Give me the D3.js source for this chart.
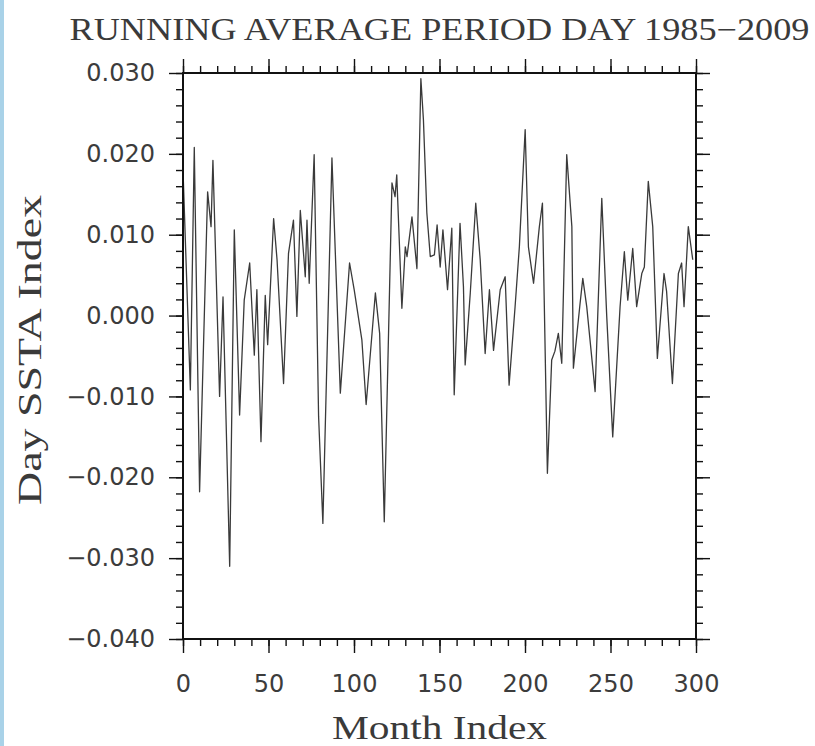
<!DOCTYPE html>
<html>
<head>
<meta charset="utf-8">
<script src="https://cdn.jsdelivr.net/npm/d3@7"></script>
<style>
  body { margin: 0; background: #fff; }
  svg { display: block; }
</style>
</head>
<body>
<svg id="chart" width="815" height="746"></svg>
<script>
const months = [
  0, 4.3, 6.6, 9.7, 14.4, 16.4, 17.5, 21.4, 23.4, 27.3,
  30, 33.1, 35.8, 39, 41.7, 43.2, 45.6, 48.1, 49.5, 53,
  55, 58.8, 61.7, 64.6, 66.6, 68.6, 71.5, 72.5, 73.8, 76.7,
  79.3, 81.8, 87.1, 92, 97.4, 100.1, 104.6, 107.1, 112.5, 115,
  117.7, 122.2, 124, 125, 128, 130, 131, 133.9, 136.8, 139.1,
  140.6, 142.6, 144.6, 147, 148.6, 150.4, 152, 154.7, 157.2, 158.6,
  162, 164, 165, 168, 171.2, 173.8, 176.7, 179.2, 181.6, 185.5,
  188.4, 190.7, 194.2, 196.7, 200.1, 202, 205, 208.4, 210.2, 213.1,
  215.6, 217.5, 219.5, 221.5, 224.4, 227.4, 228.3, 232.2, 233.8, 236.1,
  241, 244.9, 247.8, 251.3, 255.6, 258.1, 260.1, 263, 265.3, 268.3,
  269.8, 272.1, 274.7, 277.4, 281.3, 282.8, 286.2, 289.7, 291.6, 293,
  295.5, 298.1
];
const ssta = [
  0.0180, -0.0092, 0.0208, -0.0218, 0.0153, 0.0110, 0.0192, -0.0100, 0.0023, -0.0310,
  0.0106, -0.0123, 0.0019, 0.0065, -0.0049, 0.0032, -0.0156, 0.0025, -0.0036, 0.0120,
  0.0069, -0.0084, 0.0077, 0.0118, -0.0001, 0.0130, 0.0048, 0.0118, 0.0040, 0.0199,
  -0.0125, -0.0257, 0.0195, -0.0096, 0.0065, 0.0032, -0.0030, -0.0110, 0.0028, -0.0022,
  -0.0255, 0.0164, 0.0147, 0.0174, 0.0009, 0.0085, 0.0073, 0.0122, 0.0058, 0.0293,
  0.0242, 0.0127, 0.0073, 0.0075, 0.0112, 0.0060, 0.0106, 0.0032, 0.0108, -0.0098,
  0.0114, 0.0036, -0.0061, 0.0028, 0.0139, 0.0069, -0.0047, 0.0032, -0.0043, 0.0032,
  0.0048, -0.0086, 0.0011, 0.0085, 0.0230, 0.0085, 0.0040, 0.0110, 0.0139, -0.0195,
  -0.0055, -0.0044, -0.0022, -0.0059, 0.0199, 0.0110, -0.0065, 0.0015, 0.0046, 0.0011,
  -0.0094, 0.0145, -0.0001, -0.0150, 0.0011, 0.0079, 0.0019, 0.0083, 0.0011, 0.0052,
  0.0060, 0.0166, 0.0110, -0.0053, 0.0052, 0.0030, -0.0084, 0.0052, 0.0065, 0.0011,
  0.0110, 0.0069
];

const xMajor = [0, 50, 100, 150, 200, 250, 300];
const yMajor = [0.03, 0.02, 0.01, 0, -0.01, -0.02, -0.03, -0.04];

const titleText = "RUNNING AVERAGE PERIOD DAY 1985\u22122009";
const xLabel = "Month Index";
const yLabel = "Day SSTA Index";

const svg = d3.select("#chart");
const m = { top: 73, right: 119, bottom: 107, left: 183 };
const W = 815 - m.left - m.right;
const H = 746 - m.top - m.bottom;

// light blue strip on the left edge of the picture
svg.append("rect").attr("x", 0).attr("y", 0).attr("width", 4).attr("height", 746).attr("fill", "#a9d2e8");

const g = svg.append("g").attr("transform", `translate(${m.left},${m.top})`);

const x = d3.scaleLinear().domain([0, 300]).range([0, W]);
const y = d3.scaleLinear().domain([-0.04, 0.03]).range([H, 0]);

const xMinor = d3.range(0, 301, 10);
const yMinor = d3.range(-40, 31, 2).map(v => v / 1000);

const fmtY = v => d3.format(".3f")(v).replace("-", "\u2212");

function styleAxis(sel) {
  sel.select(".domain").remove();
  sel.selectAll("line").attr("stroke", "#111").attr("stroke-width", 1.4);
  sel.selectAll("text").attr("font-family", "DejaVu Sans").attr("font-size", 24).attr("fill", "#3c3c3c");
}

// minor ticks on all four sides
g.append("g").attr("transform", `translate(0,${H})`)
  .call(d3.axisBottom(x).tickValues(xMinor).tickSize(7).tickFormat("")).call(styleAxis);
g.append("g")
  .call(d3.axisTop(x).tickValues(xMinor).tickSize(7).tickFormat("")).call(styleAxis);
g.append("g")
  .call(d3.axisLeft(y).tickValues(yMinor).tickSize(7).tickFormat("")).call(styleAxis);
g.append("g").attr("transform", `translate(${W},0)`)
  .call(d3.axisRight(y).tickValues(yMinor).tickSize(7).tickFormat("")).call(styleAxis);

// major ticks
g.append("g").attr("transform", `translate(0,${H})`)
  .call(d3.axisBottom(x).tickValues(xMajor).tickSize(14).tickPadding(22).tickFormat(d3.format("d")))
  .call(styleAxis);
g.append("g")
  .call(d3.axisTop(x).tickValues(xMajor).tickSize(14).tickFormat("")).call(styleAxis);
g.append("g")
  .call(d3.axisLeft(y).tickValues(yMajor).tickSize(14).tickPadding(14).tickFormat(fmtY))
  .call(styleAxis);
g.append("g").attr("transform", `translate(${W},0)`)
  .call(d3.axisRight(y).tickValues(yMajor).tickSize(14).tickFormat("")).call(styleAxis);

// data line
const series = months.map((mo, i) => ({ mo, v: ssta[i] }));
const line = d3.line().x(d => x(d.mo)).y(d => y(d.v));
g.append("path")
  .datum(series)
  .attr("fill", "none")
  .attr("stroke", "#3a3a3a")
  .attr("stroke-width", 1.3)
  .attr("stroke-linejoin", "round")
  .attr("d", line);

// frame
g.append("rect")
  .attr("width", W).attr("height", H)
  .attr("fill", "none").attr("stroke", "#111").attr("stroke-width", 2);

// titles
svg.append("text")
  .attr("x", m.left + W / 2).attr("y", 40)
  .attr("text-anchor", "middle")
  .attr("font-family", "Liberation Serif").attr("font-size", 31).attr("fill", "#3a3a3a")
  .attr("textLength", 740).attr("lengthAdjust", "spacingAndGlyphs")
  .text(titleText);

svg.append("text")
  .attr("x", m.left + W / 2).attr("y", 739)
  .attr("text-anchor", "middle")
  .attr("font-family", "Liberation Serif").attr("font-size", 34).attr("fill", "#3a3a3a")
  .attr("textLength", 215).attr("lengthAdjust", "spacingAndGlyphs")
  .text(xLabel);

svg.append("text")
  .attr("transform", `translate(41,${m.top + H / 2 - 6}) rotate(-90)`)
  .attr("text-anchor", "middle")
  .attr("font-family", "Liberation Serif").attr("font-size", 34).attr("fill", "#3a3a3a")
  .attr("textLength", 310).attr("lengthAdjust", "spacingAndGlyphs")
  .text(yLabel);
</script>
</body>
</html>
